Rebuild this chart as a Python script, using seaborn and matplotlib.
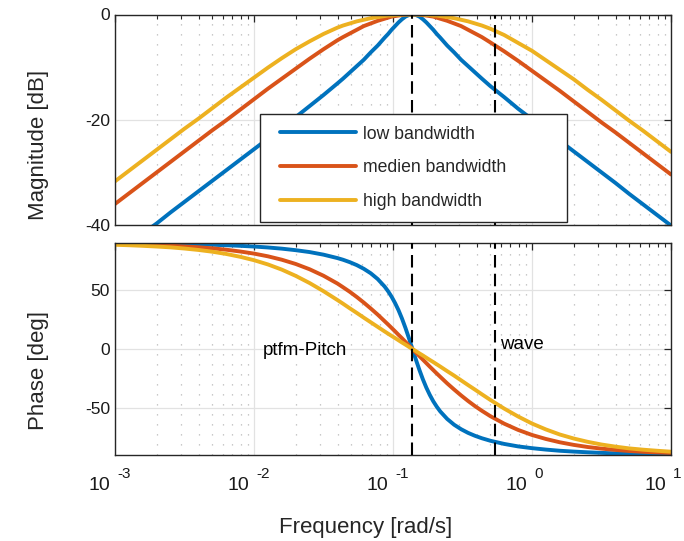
import matplotlib
matplotlib.use("Agg")
import matplotlib.pyplot as plt
from matplotlib.transforms import blended_transform_factory, offset_copy
from matplotlib.legend_handler import HandlerLine2D
import seaborn as sns
import pandas as pd

# ---- data ----
freq = [0.001, 0.001259, 0.001585, 0.001995, 0.002512, 0.003162, 0.003981, 0.005012, 0.00631, 0.007943,
        0.01, 0.01259, 0.01585, 0.01995, 0.02512, 0.03162, 0.03981, 0.04364, 0.04896, 0.05494,
        0.06164, 0.06916, 0.0776, 0.08707, 0.09223, 0.0977, 0.1035, 0.1096, 0.1161, 0.123,
        0.1303, 0.138, 0.1462, 0.1548, 0.164, 0.1737, 0.184, 0.1949, 0.2065, 0.2187,
        0.2454, 0.2753, 0.3089, 0.3466, 0.3889, 0.4364, 0.5012, 0.631, 0.7943, 1.0,
        1.259, 1.585, 1.995, 2.512, 3.162, 3.981, 5.012, 6.31, 7.943, 10.0]

low_mag = [-45.7, -43.6, -41.6, -39.7, -37.6, -35.6, -33.6, -31.6, -29.6, -27.6, -25.6, -23.6, -21.6, -19.5, -17.4, -15.3, -13.1, -12.2, -11.0, -9.8, -8.6, -7.2, -5.9, -4.4, -3.7, -2.9, -2.2, -1.5, -0.9, -0.4, -0.1, 0.0, -0.1, -0.4, -0.9, -1.5, -2.2, -2.9, -3.7, -4.4, -5.9, -7.2, -8.6, -9.8, -11.0, -12.2, -13.6, -15.7, -17.9, -19.9, -22.0, -24.0, -26.0, -28.0, -30.0, -32.0, -34.1, -36.1, -38.1, -40.1]
low_ph = [89.7, 89.6, 89.5, 89.4, 89.2, 89.1, 88.8, 88.5, 88.1, 87.6, 87.0, 86.2, 85.2, 83.9, 82.3, 80.1, 77.2, 75.8, 73.7, 71.2, 68.1, 64.3, 59.4, 53.0, 49.0, 44.4, 39.0, 32.9, 25.8, 17.8, 9.1, 0.0, -9.1, -17.7, -25.7, -32.8, -39.0, -44.4, -49.0, -53.0, -59.4, -64.3, -68.1, -71.2, -73.7, -75.8, -77.9, -80.6, -82.7, -84.2, -85.4, -86.4, -87.1, -87.7, -88.2, -88.6, -88.9, -89.1, -89.3, -89.4]

med_mag = [-36.0, -34.0, -32.0, -30.0, -28.0, -26.0, -24.0, -22.0, -20.1, -18.1, -16.1, -14.1, -12.2, -10.3, -8.4, -6.6, -4.9, -4.3, -3.6, -2.9, -2.2, -1.7, -1.2, -0.8, -0.6, -0.4, -0.3, -0.2, -0.1, 0.0, 0.0, 0.0, 0.0, 0.0, -0.1, -0.2, -0.3, -0.4, -0.6, -0.8, -1.2, -1.7, -2.2, -2.9, -3.6, -4.3, -5.3, -7.0, -8.8, -10.7, -12.6, -14.5, -16.5, -18.5, -20.5, -22.4, -24.4, -26.4, -28.4, -30.4]
med_ph = [89.1, 88.9, 88.6, 88.2, 87.7, 87.1, 86.4, 85.5, 84.3, 82.8, 81.0, 78.7, 75.8, 72.2, 67.7, 62.2, 55.6, 52.5, 48.5, 44.1, 39.4, 34.4, 29.2, 23.6, 20.8, 17.9, 15.0, 12.0, 9.1, 6.0, 3.0, 0.0, -3.0, -6.0, -9.0, -12.0, -15.0, -17.9, -20.8, -23.6, -29.2, -34.4, -39.4, -44.1, -48.5, -52.5, -57.0, -63.4, -68.7, -73.0, -76.4, -79.2, -81.4, -83.2, -84.6, -85.7, -86.6, -87.3, -87.8, -88.3]

high_mag = [-31.7, -29.7, -27.7, -25.7, -23.7, -21.7, -19.8, -17.8, -15.8, -13.9, -12.0, -10.1, -8.3, -6.6, -5.1, -3.7, -2.5, -2.1, -1.7, -1.3, -1.0, -0.7, -0.5, -0.3, -0.2, -0.2, -0.1, -0.1, 0.0, 0.0, 0.0, 0.0, 0.0, 0.0, 0.0, -0.1, -0.1, -0.2, -0.2, -0.3, -0.5, -0.7, -1.0, -1.3, -1.7, -2.1, -2.7, -3.9, -5.4, -6.9, -8.7, -10.5, -12.3, -14.3, -16.2, -18.2, -20.2, -22.1, -24.1, -26.1]
high_ph = [88.5, 88.1, 87.6, 87.0, 86.3, 85.3, 84.1, 82.6, 80.7, 78.3, 75.4, 71.8, 67.4, 62.1, 56.0, 49.1, 41.6, 38.5, 34.5, 30.6, 26.6, 22.7, 18.8, 14.9, 13.0, 11.1, 9.3, 7.4, 5.5, 3.7, 1.8, 0.0, -1.8, -3.7, -5.5, -7.4, -9.3, -11.1, -13.0, -14.9, -18.8, -22.6, -26.6, -30.6, -34.5, -38.5, -43.2, -50.6, -57.3, -63.3, -68.3, -72.6, -76.0, -78.8, -81.1, -82.9, -84.4, -85.5, -86.4, -87.2]

series_names = ["low bandwidth", "medien bandwidth", "high bandwidth"]
pitch_freq = 0.138
wave_freq = 0.54
mag_ticks = [-40, -20, 0]
phase_ticks = [-50, 0, 50]
freq_ticks = [1e-3, 1e-2, 1e-1, 1, 10]
freq_exps = ["-3", "-2", "-1", "0", "1"]

frames = []
for name, m, p in zip(series_names, [low_mag, med_mag, high_mag], [low_ph, med_ph, high_ph]):
    frames.append(pd.DataFrame({"series": name, "freq": freq, "mag": m, "phase": p}))
df = pd.concat(frames, ignore_index=True)

sns.set_theme(style="white")
plt.rcParams['font.family'] = ['Liberation Sans', 'DejaVu Sans']
plt.rcParams['axes.unicode_minus'] = False

colors = ["#0072BD", "#D95319", "#EDB120"]
pal = dict(zip(series_names, colors))

fig = plt.figure(figsize=(6.84, 5.41), dpi=100)
W, Hh = 684, 541
ax1 = fig.add_axes([115/W, 1-225/Hh, 556/W, 210.5/Hh])
ax2 = fig.add_axes([115/W, 1-455/Hh, 556/W, 212/Hh])

sns.lineplot(data=df, x="freq", y="mag", hue="series", hue_order=series_names, palette=pal,
             lw=2.8, ax=ax1, legend=True, estimator=None, sort=False)
sns.lineplot(data=df, x="freq", y="phase", hue="series", hue_order=series_names, palette=pal,
             lw=2.8, ax=ax2, legend=False, estimator=None, sort=False)

for ax in (ax1, ax2):
    ax.set_xscale("log")
    ax.set_xlim(freq_ticks[0], freq_ticks[-1])
    for xv in (pitch_freq, wave_freq):
        ax.axvline(xv, color="black", lw=1.5, dashes=(6, 3), zorder=5)
    ax.grid(which="major", color="#e2e2e2", lw=0.9, ls="-")
    ax.grid(which="minor", axis="x", color="#b8b8b8", lw=0.9, ls=(0, (1, 7)))
    ax.tick_params(which="both", direction="in", top=True, right=True, color="#262626",
                   labelsize=12.5, labelcolor="#1a1a1a")
    ax.tick_params(which="major", length=5, width=0.9)
    ax.tick_params(which="minor", length=3, width=0.8)
    for sp in ax.spines.values():
        sp.set_color("#262626")
        sp.set_linewidth(1.0)
    ax.set_axisbelow(True)

ax1.set_ylim(-40, 0)
ax1.set_yticks(mag_ticks)
ax1.tick_params(labelbottom=False)
ax1.set_xlabel("")
ax1.set_ylabel("Magnitude [dB]", fontsize=16)
ax1.yaxis.set_label_coords(-0.118, 0.38)

ax2.set_ylim(-90, 90)
ax2.set_yticks(phase_ticks)
ax2.set_xticks(freq_ticks)
ax2.set_xticklabels([])
trans = blended_transform_factory(ax2.transData, ax2.transAxes)
t_base = offset_copy(trans, fig=fig, x=-5, y=-31, units="dots")
t_exp = offset_copy(trans, fig=fig, x=2, y=-19, units="dots")
for xt, e in zip(freq_ticks, freq_exps):
    ax2.text(xt, 0, "10", transform=t_base, ha="right", va="center", fontsize=14, color="#1a1a1a")
    ax2.text(xt, 0, e, transform=t_exp, ha="left", va="center", fontsize=11, color="#1a1a1a")
ax2.set_ylabel("Phase [deg]", fontsize=16)
ax2.yaxis.set_label_coords(-0.118, 0.40)
ax2.set_xlabel("Frequency [rad/s]", fontsize=16)
ax2.xaxis.set_label_coords(0.45, -0.293)

ax2.text(0.0116, -1, "ptfm-Pitch", fontsize=13.5, ha="left", va="center", color="black")
ax2.text(0.589, 4, "wave", fontsize=13.5, ha="left", va="center", color="black")

h, l = ax1.get_legend_handles_labels()
leg = ax1.legend(h, l, loc="upper left", bbox_to_anchor=(0.261, 0.0, 0.552, 0.527), mode="expand",
                 fontsize=12.7, frameon=True, fancybox=False, edgecolor="#262626", framealpha=1,
                 handlelength=4.8, handletextpad=0.4, labelspacing=0.96, borderpad=0.65,
                 borderaxespad=0, handler_map={matplotlib.lines.Line2D: HandlerLine2D(xpad=0.45)})
leg.get_frame().set_linewidth(1.0)
leg.set_zorder(10)

fig.savefig("out.png", dpi=100)
